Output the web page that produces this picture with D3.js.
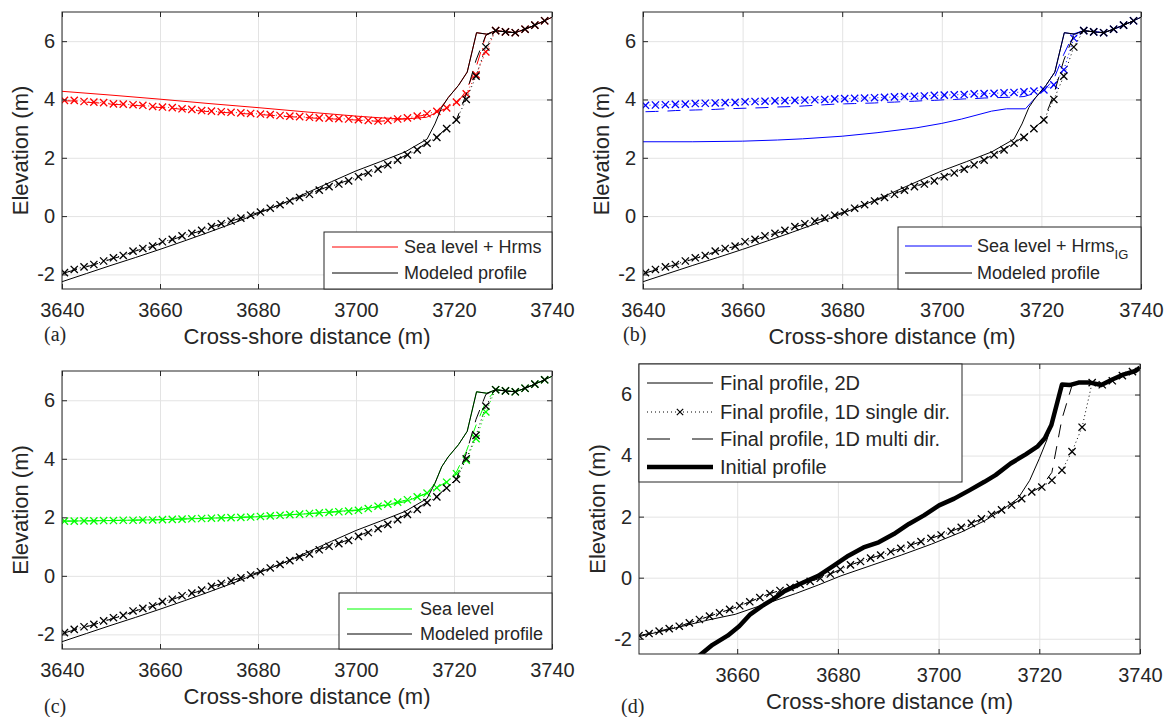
<!DOCTYPE html>
<html>
<head>
<meta charset="utf-8">
<script src="https://cdn.jsdelivr.net/npm/d3@7"></script>
<style>
  body { margin: 0; background: #fff; }
  svg text { font-family: "Liberation Sans", Arial, Helvetica, sans-serif; fill: #262626; }
</style>
</head>
<body>
<svg id="fig" width="1168" height="717"></svg>
<script>
// ---- Daten ----
const yTicks = [-2, 0, 2, 4, 6];
const xTicksABC = [3640, 3660, 3680, 3700, 3720, 3740];
const xTicksD = [3660, 3680, 3700, 3720, 3740];

// 1D-Gitter (Marker-Positionen)
const xGrid = [3640.5, 3642.5, 3644.5, 3646.5, 3648.5, 3650.5, 3652.5, 3654.5, 3656.5, 3658.5,
  3660.5, 3662.5, 3664.5, 3666.5, 3668.5, 3670.5, 3672.5, 3674.5, 3676.5, 3678.5,
  3680.5, 3682.5, 3684.5, 3686.5, 3688.5, 3690.5, 3692.5, 3694.5, 3696.5, 3698.5,
  3700.5, 3702.5, 3704.5, 3706.5, 3708.5, 3710.5, 3712.5, 3714.5, 3716.5, 3718.5,
  3720.5, 3722.5, 3724.5, 3726.5, 3728.5, 3730.5, 3732.5, 3734.5, 3736.5, 3738.5];

// Profil (a-c), 1D single dir
const zProfSingle = [-1.94, -1.83, -1.74, -1.66, -1.54, -1.43, -1.35, -1.2, -1.11, -1.03,
  -0.88, -0.8, -0.68, -0.59, -0.49, -0.36, -0.26, -0.17, -0.07, 0.03,
  0.14, 0.27, 0.39, 0.52, 0.64, 0.75, 0.89, 1.01, 1.1, 1.21,
  1.35, 1.48, 1.61, 1.76, 1.92, 2.1, 2.27, 2.5, 2.7, 3.0,
  3.3, 4.0, 4.8, 5.8, 6.36, 6.32, 6.29, 6.41, 6.55, 6.7];
// Profil (a-c), 1D multi dir
const zProfMulti = [-1.95, -1.85, -1.76, -1.67, -1.56, -1.45, -1.36, -1.22, -1.12, -1.04,
  -0.9, -0.81, -0.69, -0.6, -0.5, -0.37, -0.27, -0.17, -0.07, 0.04,
  0.15, 0.27, 0.4, 0.52, 0.65, 0.77, 0.9, 1.02, 1.12, 1.23,
  1.37, 1.5, 1.63, 1.78, 1.94, 2.12, 2.3, 2.52, 2.72, 3.02,
  3.3, 4.18, 5.35, 6.2, 6.36, 6.32, 6.29, 6.41, 6.55, 6.7];
// Profil (a-c), 2D
const xProf2D = [3640, 3645, 3650, 3655, 3660, 3665, 3670, 3675, 3680, 3685, 3690, 3695, 3700, 3705, 3710,
  3714.5, 3716.1, 3717.5, 3718.8, 3720.9, 3722.7, 3724.6, 3726.7, 3728.5, 3730.5, 3732.5, 3734.5, 3736.5, 3738.5, 3740];
const zProf2D = [-2.25, -1.97, -1.69, -1.42, -1.14, -0.85, -0.55, -0.24, 0.09, 0.43, 0.8, 1.18, 1.55, 1.87, 2.2,
  2.64, 3.16, 3.73, 4.06, 4.48, 4.94, 6.29, 6.24, 6.36, 6.32, 6.29, 6.41, 6.55, 6.7, 6.82];

// (a) Sea level + Hrms
const zRedSingle = [3.97, 3.97, 3.93, 3.91, 3.89, 3.85, 3.84, 3.82, 3.8, 3.76,
  3.74, 3.72, 3.68, 3.66, 3.62, 3.6, 3.58, 3.56, 3.54, 3.52,
  3.5, 3.48, 3.45, 3.43, 3.41, 3.39, 3.37, 3.36, 3.34, 3.33,
  3.31, 3.28, 3.26, 3.28, 3.33, 3.37, 3.43, 3.51, 3.59, 3.71,
  3.91, 4.19, 4.85, 5.63, 6.36, 6.32, 6.29, 6.41, 6.55, 6.7];
const zRedMulti = [3.95, 3.95, 3.91, 3.89, 3.87, 3.83, 3.82, 3.8, 3.78, 3.74,
  3.72, 3.7, 3.66, 3.64, 3.6, 3.58, 3.56, 3.54, 3.52, 3.5,
  3.48, 3.46, 3.43, 3.41, 3.39, 3.37, 3.35, 3.34, 3.32, 3.31,
  3.29, 3.27, 3.25, 3.27, 3.31, 3.35, 3.41, 3.49, 3.57, 3.69,
  3.85, 4.3, 5.1, 6.2, 6.36, 6.32, 6.29, 6.41, 6.55, 6.7];
const xRed2D = [3640, 3650, 3660, 3670, 3680, 3690, 3700, 3705, 3710, 3714.4, 3716.5, 3718.2,
  3718.8, 3720.9, 3722.7, 3724.6, 3726.7, 3728.5, 3730.5, 3732.5, 3734.5, 3736.5, 3738.5, 3740];
const zRed2D = [4.28, 4.15, 4.01, 3.86, 3.72, 3.57, 3.43, 3.37, 3.33, 3.39, 3.56, 3.91,
  4.06, 4.48, 4.94, 6.29, 6.24, 6.36, 6.32, 6.29, 6.41, 6.55, 6.7, 6.82];

// (b) Sea level + Hrms_IG
const zBlueSingle = [3.8, 3.81, 3.82, 3.83, 3.84, 3.86, 3.87, 3.88, 3.89, 3.9,
  3.92, 3.93, 3.94, 3.95, 3.96, 3.97, 3.98, 3.99, 4.0, 4.02,
  4.03, 4.04, 4.05, 4.06, 4.07, 4.09, 4.1, 4.11, 4.12, 4.14,
  4.15, 4.16, 4.17, 4.19, 4.2, 4.21, 4.23, 4.24, 4.26, 4.29,
  4.33, 4.5, 5.02, 6.1, 6.36, 6.32, 6.29, 6.41, 6.55, 6.7];
const zBlueMulti = [3.58, 3.59, 3.6, 3.62, 3.63, 3.64, 3.65, 3.66, 3.68, 3.69,
  3.7, 3.71, 3.72, 3.74, 3.75, 3.76, 3.78, 3.8, 3.82, 3.84,
  3.85, 3.86, 3.87, 3.88, 3.9, 3.91, 3.93, 3.94, 3.96, 3.97,
  3.99, 4.0, 4.02, 4.03, 4.05, 4.06, 4.07, 4.08, 4.1, 4.2,
  4.3, 4.7, 5.55, 6.25, 6.36, 6.32, 6.29, 6.41, 6.55, 6.7];
const xBlue2D = [3640, 3650, 3660, 3667, 3672, 3680, 3687, 3695, 3700, 3704, 3710, 3713, 3716.8, 3718,
  3719.7, 3720.9, 3722.7, 3724.6, 3726.7, 3728.5, 3730.5, 3732.5, 3734.5, 3736.5, 3738.5, 3740];
const zBlue2D = [2.55, 2.55, 2.57, 2.61, 2.65, 2.74, 2.86, 3.03, 3.18, 3.33, 3.6, 3.68, 3.68, 3.91,
  4.22, 4.48, 4.94, 6.29, 6.24, 6.36, 6.32, 6.29, 6.41, 6.55, 6.7, 6.82];

// (c) Sea level
const zGreenSingle = [1.87, 1.87, 1.88, 1.88, 1.89, 1.89, 1.9, 1.9, 1.91, 1.91,
  1.92, 1.93, 1.94, 1.95, 1.96, 1.97, 1.98, 1.99, 2.0, 2.01,
  2.03, 2.05, 2.07, 2.09, 2.11, 2.13, 2.15, 2.17, 2.19, 2.21,
  2.24, 2.3, 2.38, 2.45, 2.52, 2.6, 2.7, 2.83, 3.01, 3.2,
  3.49, 3.95, 4.69, 5.6, 6.36, 6.32, 6.29, 6.41, 6.55, 6.7];
const zGreenMulti = [1.87, 1.87, 1.88, 1.88, 1.89, 1.89, 1.9, 1.9, 1.91, 1.91,
  1.92, 1.93, 1.94, 1.95, 1.96, 1.97, 1.98, 1.99, 2.0, 2.01,
  2.03, 2.05, 2.07, 2.09, 2.11, 2.13, 2.15, 2.17, 2.19, 2.21,
  2.24, 2.3, 2.38, 2.45, 2.52, 2.6, 2.7, 2.83, 3.01, 3.22,
  3.55, 4.25, 5.15, 5.95, 6.36, 6.32, 6.29, 6.41, 6.55, 6.7];
const xGreen2D = [3640, 3650, 3660, 3670, 3680, 3690, 3700, 3705, 3710, 3714.5, 3716.1, 3717.5,
  3718.8, 3720.9, 3722.7, 3724.6, 3726.7, 3728.5, 3730.5, 3732.5, 3734.5, 3736.5, 3738.5, 3740];
const zGreen2D = [1.87, 1.89, 1.92, 1.97, 2.02, 2.12, 2.25, 2.38, 2.53, 2.82, 3.16, 3.73,
  4.06, 4.48, 4.94, 6.29, 6.24, 6.36, 6.32, 6.29, 6.41, 6.55, 6.7, 6.82];

// (d) Vergleich 2D / 1D / Initial
const zDSingle = [-1.9, -1.83, -1.75, -1.67, -1.59, -1.48, -1.37, -1.26, -1.15, -1.04,
  -0.92, -0.79, -0.65, -0.52, -0.42, -0.32, -0.22, -0.12, -0.02, 0.12,
  0.27, 0.42, 0.53, 0.64, 0.74, 0.85, 0.96, 1.07, 1.18, 1.29,
  1.4, 1.52, 1.65, 1.78, 1.93, 2.07, 2.22, 2.38, 2.59, 2.81,
  2.97, 3.19, 3.52, 4.13, 4.93, 6.39, 6.32, 6.45, 6.62, 6.75];
const zDMulti = [-1.9, -1.83, -1.75, -1.67, -1.59, -1.48, -1.37, -1.26, -1.15, -1.04,
  -0.92, -0.79, -0.65, -0.52, -0.42, -0.32, -0.22, -0.12, -0.02, 0.12,
  0.27, 0.42, 0.53, 0.64, 0.74, 0.85, 0.96, 1.07, 1.18, 1.29,
  1.4, 1.52, 1.65, 1.78, 1.93, 2.07, 2.22, 2.38, 2.59, 2.81,
  2.99, 3.45, 5.2, 6.3, 6.36, 6.39, 6.32, 6.45, 6.62, 6.75];
const xD2D = [3640, 3646.9, 3654.4, 3659.6, 3665.6, 3671.6, 3676.1, 3680.6, 3686.6, 3692.6, 3698.6, 3704.6,
  3709.1, 3712.8, 3715.8, 3718.1, 3720.0, 3721.5, 3722.4, 3724.5, 3726.0, 3727.8, 3730.1, 3732.3, 3734.6,
  3736.8, 3739.1, 3740];
const zD2D = [-1.95, -1.68, -1.38, -1.2, -0.86, -0.52, -0.24, 0.06, 0.4, 0.74, 1.1, 1.5,
  1.86, 2.24, 2.6, 3.19, 3.9, 4.51, 5.0, 6.33, 6.31, 6.39, 6.39, 6.31, 6.5,
  6.66, 6.77, 6.88];
const xInit = [3652.5, 3655.1, 3658.1, 3660.4, 3662.6, 3664.9, 3667.1, 3669.4, 3673.1, 3676.1, 3679.1, 3682.1,
  3685.1, 3688.1, 3691.1, 3694.1, 3697.1, 3700.1, 3703.1, 3706.1, 3709.1, 3711.3, 3714.3, 3717.3, 3719.6,
  3721.1, 3722.4, 3724.5, 3726.0, 3727.8, 3730.1, 3732.3, 3734.6, 3736.8, 3739.1, 3740];
const zInit = [-2.55, -2.2, -1.9, -1.59, -1.2, -0.93, -0.71, -0.44, -0.16, 0.06, 0.39, 0.72,
  0.99, 1.16, 1.43, 1.76, 2.04, 2.37, 2.59, 2.86, 3.14, 3.36, 3.74, 4.04, 4.29,
  4.57, 5.0, 6.33, 6.31, 6.39, 6.39, 6.31, 6.5, 6.66, 6.77, 6.88];

// ---- Layout ----
const GRID = '#e3e3e3', AXC = '#262626';
const DASH = '13,9', DOT = '1,3';
const svg = d3.select('#fig');

function drawAxes(p) {
  const g = svg.append('g').attr('transform', `translate(${p.left},${p.top})`);
  const x = d3.scaleLinear().domain(p.xDomain).range([0, p.w]);
  const y = d3.scaleLinear().domain([-2.5, 7]).range([p.h, 0]);

  // Raster
  g.append('g').attr('transform', `translate(0,${p.h})`)
    .call(d3.axisBottom(x).tickValues(p.xTicks).tickSize(-p.h).tickFormat(''))
    .call(s => s.select('.domain').remove())
    .selectAll('line').attr('stroke', GRID);
  g.append('g')
    .call(d3.axisLeft(y).tickValues(yTicks).tickSize(-p.w).tickFormat(''))
    .call(s => s.select('.domain').remove())
    .selectAll('line').attr('stroke', GRID);

  const clipId = 'clip-' + p.key;
  g.append('clipPath').attr('id', clipId).append('rect').attr('width', p.w).attr('height', p.h);
  const plot = g.append('g').attr('clip-path', `url(#${clipId})`);

  return { g, x, y, plot };
}

function finishAxes(p, ax) {
  const { g, x, y } = ax;
  const styleAxis = s => {
    s.attr('font-family', null).attr('font-size', null);
    s.select('.domain').remove();
    s.selectAll('line').attr('stroke', AXC);
    s.selectAll('text').attr('font-size', 20).attr('fill', AXC);
  };
  g.append('g').attr('transform', `translate(0,${p.h})`)
    .call(d3.axisBottom(x).tickValues(p.xTicks).tickSize(-5).tickPadding(14).tickFormat(d3.format('d')))
    .call(styleAxis);
  g.append('g')
    .call(d3.axisLeft(y).tickValues(yTicks).tickSize(-5).tickPadding(7).tickFormat(d => String(d)))
    .call(styleAxis);
  g.append('g')
    .call(d3.axisTop(x).tickValues(p.xTicks).tickSize(-5).tickFormat(''))
    .call(styleAxis);
  g.append('g').attr('transform', `translate(${p.w},0)`)
    .call(d3.axisRight(y).tickValues(yTicks).tickSize(-5).tickFormat(''))
    .call(styleAxis);
  g.append('rect').attr('width', p.w).attr('height', p.h)
    .attr('fill', 'none').attr('stroke', AXC).attr('stroke-width', 1);

  g.append('text')
    .attr('transform', `translate(-42,${p.h / 2}) rotate(-90)`)
    .attr('text-anchor', 'middle').attr('dy', '0.35em')
    .attr('font-size', 22).text('Elevation (m)');
  g.append('text')
    .attr('x', p.w / 2).attr('y', p.h + 55)
    .attr('text-anchor', 'middle').attr('font-size', 22)
    .text('Cross-shore distance (m)');
  svg.append('text')
    .attr('x', p.labelX).attr('y', p.labelY)
    .style('font-family', '"Liberation Serif", "Times New Roman", serif')
    .attr('font-size', 20).text(`(${p.key})`);
}

function addLine(ax, xs, zs, color, opts = {}) {
  const line = d3.line().x(d => ax.x(d[0])).y(d => ax.y(d[1]));
  ax.plot.append('path')
    .datum(d3.zip(xs, zs))
    .attr('d', line)
    .attr('fill', 'none')
    .attr('stroke', color)
    .attr('stroke-width', opts.width || 1)
    .attr('stroke-dasharray', opts.dash || null)
    .attr('stroke-linejoin', 'round');
}

function crossPath(s) { return `M${-s},${-s}L${s},${s}M${-s},${s}L${s},${-s}`; }

function addMarkers(ax, xs, zs, color) {
  ax.plot.append('g').selectAll('path')
    .data(d3.zip(xs, zs))
    .join('path')
    .attr('transform', d => `translate(${ax.x(d[0])},${ax.y(d[1])})`)
    .attr('d', crossPath(3.6))
    .attr('fill', 'none')
    .attr('stroke', color)
    .attr('stroke-width', 1.3);
}

// ---- Panels a-c ----
const panelsABC = [
  { key: 'a', left: 62, top: 12, w: 490, h: 277, labelX: 44, labelY: 341, color: '#ff0000',
    x2D: xRed2D, z2D: zRed2D, zSingle: zRedSingle, zMulti: zRedMulti,
    legend: { w: 228, h: 57, row1: 15, row2: 41, lx0: 8, lx1: 74, tx: 80 }, legendText: 'Sea level + Hrms' },
  { key: 'b', left: 643, top: 12, w: 498, h: 277, labelX: 623, labelY: 341, color: '#0000ff',
    x2D: xBlue2D, z2D: zBlue2D, zSingle: zBlueSingle, zMulti: zBlueMulti,
    legend: { w: 243, h: 62, row1: 19, row2: 46, lx0: 7, lx1: 74, tx: 79 }, legendText: 'Sea level + Hrms', sub: 'IG' },
  { key: 'c', left: 62, top: 371, w: 490, h: 278, labelX: 44, labelY: 713, color: '#00ff00',
    x2D: xGreen2D, z2D: zGreen2D, zSingle: zGreenSingle, zMulti: zGreenMulti,
    legend: { w: 213, h: 56, row1: 16, row2: 41, lx0: 8, lx1: 73, tx: 81 }, legendText: 'Sea level' }
];

panelsABC.forEach(p => {
  p.xDomain = [3640, 3740];
  p.xTicks = xTicksABC;
  const ax = drawAxes(p);

  addLine(ax, xGrid, p.zMulti, p.color, { dash: DASH });
  addLine(ax, xGrid, p.zSingle, p.color, { dash: DOT });
  addMarkers(ax, xGrid, p.zSingle, p.color);
  addLine(ax, p.x2D, p.z2D, p.color);

  addLine(ax, xGrid, zProfMulti, '#000', { dash: DASH });
  addLine(ax, xGrid, zProfSingle, '#000', { dash: DOT });
  addMarkers(ax, xGrid, zProfSingle, '#000');
  addLine(ax, xProf2D, zProf2D, '#000');

  finishAxes(p, ax);

  // Legende
  const L = p.legend;
  const lg = ax.g.append('g').attr('transform', `translate(${p.w - L.w},${p.h - L.h})`);
  lg.append('rect').attr('width', L.w).attr('height', L.h)
    .attr('fill', '#fff').attr('stroke', AXC).attr('stroke-width', 1);
  [[L.row1, p.color], [L.row2, '#000']].forEach(([ry, c]) => {
    lg.append('line').attr('x1', L.lx0).attr('x2', L.lx1).attr('y1', ry).attr('y2', ry)
      .attr('stroke', c).attr('stroke-width', 1);
  });
  const t1 = lg.append('text').attr('x', L.tx).attr('y', L.row1).attr('dy', '0.35em')
    .attr('font-size', 18).attr('fill', '#000').text(p.legendText);
  if (p.sub) t1.append('tspan').attr('font-size', 13).attr('dy', 7).text(p.sub);
  lg.append('text').attr('x', L.tx).attr('y', L.row2).attr('dy', '0.35em')
    .attr('font-size', 18).attr('fill', '#000').text('Modeled profile');
});

// ---- Panel d ----
const pd = { key: 'd', left: 639, top: 364, w: 501, h: 290, labelX: 621, labelY: 713,
  xDomain: [3640.5, 3740], xTicks: xTicksD };
const axD = drawAxes(pd);
addLine(axD, xD2D, zD2D, '#000');
addLine(axD, xGrid, zDSingle, '#000', { dash: DOT });
addMarkers(axD, xGrid, zDSingle, '#000');
addLine(axD, xGrid, zDMulti, '#000', { dash: DASH });
addLine(axD, xInit, zInit, '#000', { width: 4.5 });
finishAxes(pd, axD);

const legendD = ['Final profile, 2D', 'Final profile, 1D single dir.', 'Final profile, 1D multi dir.', 'Initial profile'];
const legRows = [19, 48, 75, 103];
const lgD = axD.g.append('g');
lgD.append('rect').attr('width', 323).attr('height', 118)
  .attr('fill', '#fff').attr('stroke', AXC).attr('stroke-width', 1);
const legStyles = [
  { width: 1, dash: null }, { width: 1, dash: DOT }, { width: 1, dash: '23,22' }, { width: 4.5, dash: null }
];
legendD.forEach((name, i) => {
  const ry = legRows[i];
  lgD.append('line').attr('x1', 8).attr('x2', 74).attr('y1', ry).attr('y2', ry)
    .attr('stroke', '#000').attr('stroke-width', legStyles[i].width)
    .attr('stroke-dasharray', legStyles[i].dash);
  if (i === 1) {
    lgD.append('path').attr('transform', `translate(41,${ry})`).attr('d', crossPath(3.2))
      .attr('stroke', '#000').attr('stroke-width', 1.2).attr('fill', 'none');
  }
  lgD.append('text').attr('x', 81).attr('y', ry).attr('dy', '0.35em')
    .attr('font-size', 20).attr('fill', '#000').text(name);
});
</script>
</body>
</html>
